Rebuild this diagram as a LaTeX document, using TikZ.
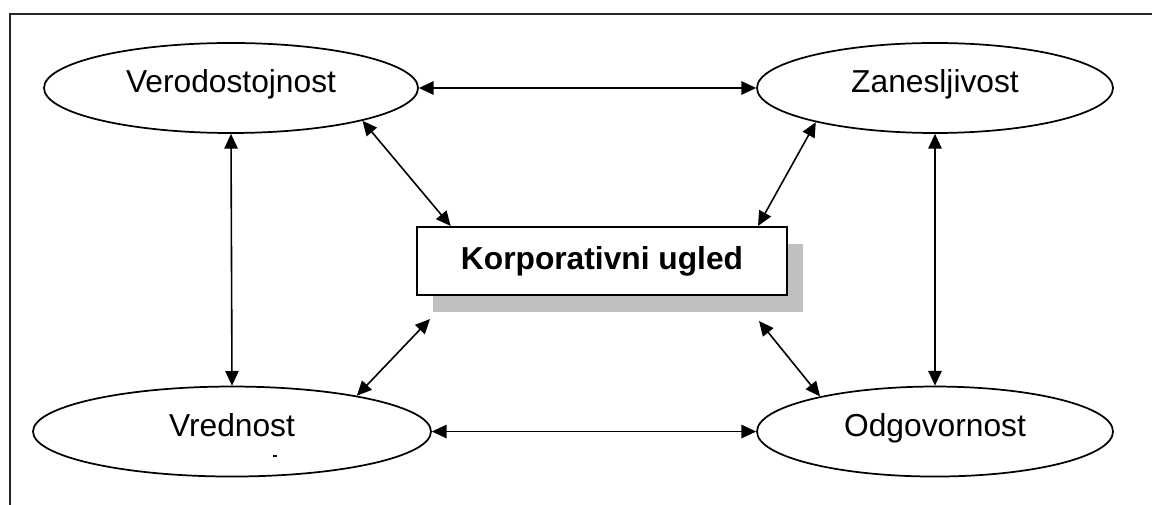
\documentclass[tikz,border=0pt]{standalone}
\usepackage{fontspec}
\setmainfont{Liberation Sans}
\usetikzlibrary{shapes.geometric, positioning, shadows, arrows.meta}

\begin{document}
\begin{tikzpicture}[
    x=0.75pt, y=-0.75pt,
    on grid,
    every node/.style={align=center, font=\fontsize{23.8}{28}\selectfont},
    quality/.style={ellipse, draw, line width=1.3pt, inner sep=0pt, minimum height=67.5pt,
        text height=17pt, text depth=9.5pt},
    reputation/.style={rectangle, draw, line width=1.5pt, fill=white, minimum width=277.5pt, minimum height=51pt,
        font=\fontsize{23.8}{28}\selectfont\bfseries,
        drop shadow={shadow xshift=12pt, shadow yshift=-12.75pt, fill=black!25, opacity=1}},
    link/.style={{Triangle[length=11pt,width=10pt]}-{Triangle[length=11pt,width=10pt]}, line width=1.2pt}
]
    \useasboundingbox (0,0) rectangle (1152,505);

    % Frame
    \draw[line width=1.5pt, black!85] (1152,14) -- (10,14) -- (10,505);

    % Central node
    \node[reputation] (ugled) at (602,261) {Korporativni ugled};

    % Four qualities
    \node[quality, minimum width=280.5pt, above left=129.75pt and 278.25pt of ugled] (vero) {Verodostojnost};
    \node[quality, minimum width=267pt, above right=129.75pt and 249.75pt of ugled] (zan) {Zanesljivost};
    \node[quality, minimum width=298.5pt, below left=127.9pt and 277.5pt of ugled] (vred) {Vrednost};
    \node[quality, minimum width=267pt, below right=127.9pt and 249.75pt of ugled] (odg) {Odgovornost};

    % Arrows
    \draw[link] (vero) -- (zan);
    \draw[link] (vred) -- (odg);
    \draw[link] (vero.south) -- (vred.north);
    \draw[link] (zan.south) -- (odg.north);
    \draw[link] (vero.-14) -- ([xshift=26pt]ugled.north west);
    \draw[link] (zan.196) -- ([xshift=-22.5pt]ugled.north east);
    \draw[link] ([xshift=10.5pt, yshift=-17.25pt]ugled.south west) -- (vred.16);
    \draw[link] ([xshift=-21.75pt, yshift=-18.75pt]ugled.south east) -- (odg.163);

    % stray mark
    \draw[line width=0.8pt] (273,456) -- (277,456);

\end{tikzpicture}
\end{document}
